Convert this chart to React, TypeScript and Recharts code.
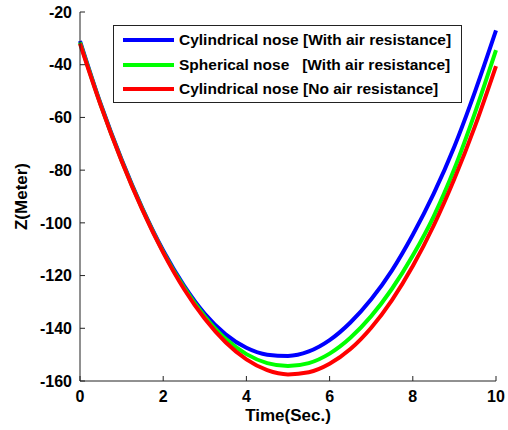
import { LineChart, Line, XAxis, YAxis } from "recharts";

// Time axis (s) and vertical position Z (m)
const time = [0, 0.5, 1, 1.5, 2, 2.5, 3, 3.5, 4, 4.5, 5, 5.5, 6, 6.5, 7, 7.5, 8, 8.5, 9, 9.5, 10];
const cylindricalAir = [
  -31, -55, -76, -94.5, -110.5, -123.8, -134.5, -142.3, -147.4, -150, -150.5,
  -148.8, -144.5, -137.8, -129, -118, -104.5, -89, -71, -50, -27,
];
const sphericalAir = [
  -31.5, -55.3, -76.3, -94.8, -111, -124.5, -135.5, -144, -149.8, -153.2, -154.3,
  -153.2, -149.6, -143.6, -135.4, -125, -112.4, -97.6, -79.5, -58, -34.5,
];
const cylindricalNoAir = [
  -32, -55.5, -76.5, -95.1, -111.3, -125.1, -136.4, -145.3, -151.8, -155.9, -157.5,
  -156.7, -153.5, -147.9, -139.8, -129.3, -116.4, -101.1, -83.3, -63.1, -40.5,
];

const xTicks = [0, 2, 4, 6, 8, 10];
const yTicks = [-160, -140, -120, -100, -80, -60, -40, -20];

const series = [
  { key: "cylAir", name: "Cylindrical nose [With air resistance]", color: "#0000FF" },
  { key: "sphAir", name: "Spherical nose   [With air resistance]", color: "#00FF00" },
  { key: "cylNoAir", name: "Cylindrical nose [No air resistance]", color: "#FF0000" },
];

const data = time.map((t, i) => ({
  t,
  cylAir: cylindricalAir[i],
  sphAir: sphericalAir[i],
  cylNoAir: cylindricalNoAir[i],
}));

const FONT = "'Liberation Sans', Arial, sans-serif";
const TICK_GAP = 10;
const TICK_LEN = 5;

const BottomTick = (props: any) => {
  const { x, y, payload } = props;
  const axisY = y - TICK_GAP;
  return (
    <g>
      <line x1={x} x2={x} y1={axisY} y2={axisY - TICK_LEN} stroke="#222" />
      <text x={x} y={y} dy="0.71em" textAnchor="middle" fontSize={16} fontWeight={700} fill="#000" fontFamily={FONT}>
        {payload.value}
      </text>
    </g>
  );
};

const TopTick = (props: any) => {
  const { x, y } = props;
  return <line x1={x} x2={x} y1={y} y2={y + TICK_LEN} stroke="#222" />;
};

const LeftTick = (props: any) => {
  const { x, y, payload } = props;
  const axisX = x + 8;
  return (
    <g>
      <line x1={axisX} x2={axisX + TICK_LEN} y1={y} y2={y} stroke="#222" />
      <text x={x} y={y} dy="0.355em" textAnchor="end" fontSize={16} fontWeight={700} fill="#000" fontFamily={FONT}>
        {payload.value}
      </text>
    </g>
  );
};

const RightTick = (props: any) => {
  const { x, y } = props;
  return <line x1={x} x2={x - TICK_LEN} y1={y} y2={y} stroke="#222" />;
};

const YTitle = (props: any) => {
  const { viewBox } = props;
  const cx = 21;
  const cy = viewBox.y + viewBox.height / 2;
  return (
    <text
      x={cx}
      y={cy}
      dy="0.355em"
      textAnchor="middle"
      transform={`rotate(-90, ${cx}, ${cy})`}
      fontSize={17}
      fontWeight={700}
      fill="#000"
      fontFamily={FONT}
    >
      Z(Meter)
    </text>
  );
};

export default function App() {
  return (
    <div style={{ position: "absolute", left: 0, top: 0, width: 508, height: 430, background: "#fff" }}>
      <LineChart width={508} height={430} data={data} margin={{ top: 12, right: 12, left: 0, bottom: 0 }}>
        <XAxis
          dataKey="t"
          type="number"
          domain={[0, 10]}
          ticks={xTicks}
          height={49}
          tickSize={0}
          tickMargin={TICK_GAP}
          tickLine={false}
          axisLine={{ stroke: "#222" }}
          tick={<BottomTick />}
          label={{
            value: "Time(Sec.)",
            position: "insideBottom",
            offset: 9,
            fontSize: 17,
            fontWeight: 700,
            fill: "#000",
            fontFamily: FONT,
          }}
        />
        <XAxis
          xAxisId="top"
          orientation="top"
          dataKey="t"
          type="number"
          domain={[0, 10]}
          ticks={xTicks}
          height={0}
          tickSize={0}
          tickMargin={0}
          tickLine={false}
          axisLine={{ stroke: "#222" }}
          tick={<TopTick />}
        />
        <YAxis
          type="number"
          domain={[-160, -20]}
          ticks={yTicks}
          width={80}
          tickSize={0}
          tickMargin={8}
          tickLine={false}
          axisLine={{ stroke: "#222" }}
          tick={<LeftTick />}
          label={<YTitle />}
        />
        <YAxis
          yAxisId="right"
          orientation="right"
          type="number"
          domain={[-160, -20]}
          ticks={yTicks}
          width={0}
          tickSize={0}
          tickMargin={0}
          tickLine={false}
          axisLine={{ stroke: "#222" }}
          tick={<RightTick />}
        />
        {series.map((s) => (
          <Line
            key={s.key}
            type="monotone"
            dataKey={s.key}
            stroke={s.color}
            strokeWidth={4}
            dot={false}
            isAnimationActive={false}
          />
        ))}
      </LineChart>
      <div
        style={{
          position: "absolute",
          left: 113,
          top: 25,
          width: 349,
          height: 78,
          boxSizing: "border-box",
          border: "1px solid #222",
          background: "#fff",
          paddingTop: 2,
          fontFamily: FONT,
          fontWeight: 700,
          fontSize: 15.5,
        }}
      >
        {series.map((s) => (
          <div key={s.key} style={{ display: "flex", alignItems: "center", height: 24.5 }}>
            <div style={{ marginLeft: 9, width: 51, height: 4, background: s.color }} />
            <span style={{ marginLeft: 5, whiteSpace: "pre", color: "#000" }}>{s.name}</span>
          </div>
        ))}
      </div>
    </div>
  );
}
